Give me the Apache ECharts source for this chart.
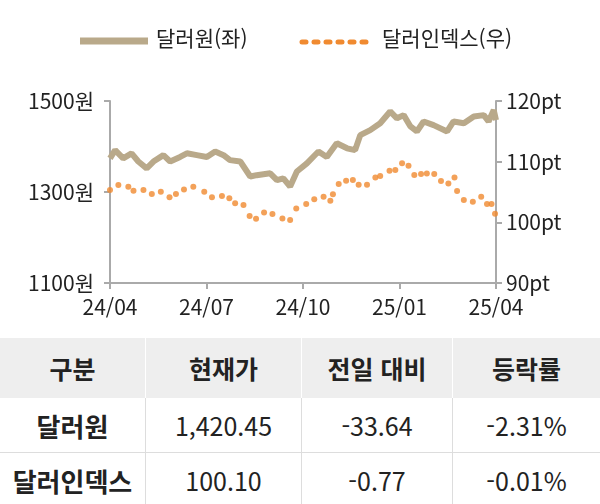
<!DOCTYPE html>
<html lang="ko">
<head>
<meta charset="UTF-8">
<title>달러원</title>
<script src="https://cdn.jsdelivr.net/npm/echarts@6/dist/echarts.min.js"></script>
<style>
  body { margin: 0; font-family: "Noto Sans CJK KR", sans-serif; background: #fff; }
  #main { width: 600px; height: 338px; }
  table { width: 600px; border-collapse: collapse; font-size: 25px; color: #222; }
  td { text-align: center; border-left: 1px solid #ddd; padding: 0; }
  td:first-child { border-left: none; }
  tr.head td { background: #eeeeee; font-weight: bold; height: 60px; border-left-color: #fff; }
  tr.row td { height: 54px; border-bottom: 1px solid #ddd; }
  td.name { font-weight: bold; white-space: nowrap; font-size: 26px; }
</style>
</head>
<body>
<div id="main"></div>
<table>
  <tr class="head"><td style="width:145px">구분</td><td style="width:155px">현재가</td><td style="width:150px">전일 대비</td><td>등락률</td></tr>
  <tr class="row"><td class="name">달러원</td><td>1,420.45</td><td>-33.64</td><td>-2.31%</td></tr>
  <tr class="row"><td class="name">달러인덱스</td><td>100.10</td><td>-0.77</td><td>-0.01%</td></tr>
</table>
<script>
var monthLabels = ['24/04', '24/07', '24/10', '25/01', '25/04']

// x = months since 2024-04
var wonX = [0, .16, .41, .67, .88, 1.14, 1.35, 1.66, 1.87, 2.18, 2.39, 2.70, 3.01, 3.27, 3.53, 3.73, 4.05, 4.36, 4.56, 4.98, 5.19, 5.39, 5.60, 5.81, 6.12, 6.48, 6.74, 7.05, 7.37, 7.62, 7.78, 8.09, 8.40, 8.71, 8.92, 9.13, 9.34, 9.54, 9.75, 10.06, 10.48, 10.68, 11.0, 11.31, 11.62, 11.77, 11.93, 12.0]
var wonY = [1374, 1392, 1374, 1385, 1367, 1352, 1367, 1381, 1367, 1377, 1385, 1381, 1377, 1389, 1381, 1370, 1367, 1334, 1337, 1341, 1326, 1330, 1312, 1345, 1363, 1389, 1377, 1407, 1396, 1392, 1425, 1436, 1451, 1477, 1462, 1469, 1444, 1433, 1455, 1447, 1433, 1455, 1451, 1466, 1469, 1455, 1480, 1458]

var dxyX = [0, .26, .57, .73, 1.04, 1.30, 1.58, 1.85, 2.05, 2.30, 2.59, 2.93, 3.17, 3.48, 3.71, 3.89, 4.15, 4.34, 4.54, 4.79, 5.05, 5.36, 5.60, 5.79, 6.10, 6.35, 6.64, 6.85, 6.93, 7.11, 7.34, 7.55, 7.73, 7.99, 8.25, 8.40, 8.69, 8.87, 9.08, 9.28, 9.46, 9.67, 9.85, 10.08, 10.29, 10.52, 10.71, 10.79, 11.0, 11.28, 11.54, 11.72, 11.86, 11.97]
var dxyY = [105.33, 106.15, 105.87, 105.22, 105.33, 104.67, 105.05, 104.12, 104.67, 105.43, 105.87, 105.05, 104.12, 104.34, 103.95, 103.13, 102.85, 101.04, 100.6, 101.64, 101.37, 100.65, 100.38, 102.3, 103.02, 103.79, 104.23, 103.57, 104.61, 106.31, 106.86, 106.97, 106.2, 106.2, 107.41, 107.63, 108.51, 108.62, 109.72, 109.34, 107.8, 107.96, 108.07, 107.96, 106.81, 106.42, 107.41, 105.16, 103.68, 103.4, 104.23, 103.02, 103.02, 101.42]

function pairs(xs, ys) { return xs.map(function(x, i) { return [x, ys[i]] }) }

var axisText = { color: '#222', fontSize: 21, fontFamily: 'Noto Sans CJK KR' }
var chart = echarts.init(document.getElementById('main'))
chart.setOption({
  animation: false,
  grid: { left: 110, right: 104, top: 101, height: 182 },
  graphic: [
    { type: 'line', shape: { x1: 80, y1: 41, x2: 148, y2: 41 }, style: { stroke: '#b9a98a', lineWidth: 7 } },
    { type: 'text', left: 156, top: 28, style: { text: '달러원(좌)', fill: '#222', font: '21px "Noto Sans CJK KR"' } },
    { type: 'line', shape: { x1: 302, y1: 42, x2: 374, y2: 42 }, style: { stroke: '#f08a30', lineWidth: 5, lineDash: [4, 8], lineCap: 'round' } },
    { type: 'text', left: 382, top: 28, style: { text: '달러인덱스(우)', fill: '#222', font: '21px "Noto Sans CJK KR"' } }
  ],
  xAxis: {
    type: 'value', min: 0, max: 12, interval: 3,
    axisLine: { lineStyle: { color: '#aaa', width: 2 } },
    axisTick: { length: 6, lineStyle: { color: '#aaa', width: 2 } },
    splitLine: { show: false },
    axisLabel: Object.assign({ margin: 14, formatter: function(v) { return monthLabels[v / 3] } }, axisText)
  },
  yAxis: [{
    type: 'value', min: 1100, max: 1500, interval: 200,
    axisLine: { show: true, lineStyle: { color: '#aaa', width: 2 } },
    axisTick: { show: true, length: 6, lineStyle: { color: '#aaa', width: 2 } },
    splitLine: { show: false },
    axisLabel: Object.assign({ margin: 16, formatter: function(v) { return v + '원' } }, axisText)
  }, {
    type: 'value', min: 90, max: 120, interval: 10,
    axisLine: { show: true, lineStyle: { color: '#aaa', width: 2 } },
    axisTick: { show: true, length: 6, lineStyle: { color: '#aaa', width: 2 } },
    splitLine: { show: false },
    axisLabel: Object.assign({ margin: 10, formatter: function(v) { return v + 'pt' } }, axisText)
  }],
  series: [{
    type: 'line', yAxisIndex: 0, data: pairs(wonX, wonY), showSymbol: false,
    lineStyle: { color: '#b9a98a', width: 6 }
  }, {
    type: 'scatter', yAxisIndex: 1, data: pairs(dxyX, dxyY), symbolSize: 6,
    itemStyle: { color: '#f08a30' }
  }]
})
</script>
</body>
</html>
